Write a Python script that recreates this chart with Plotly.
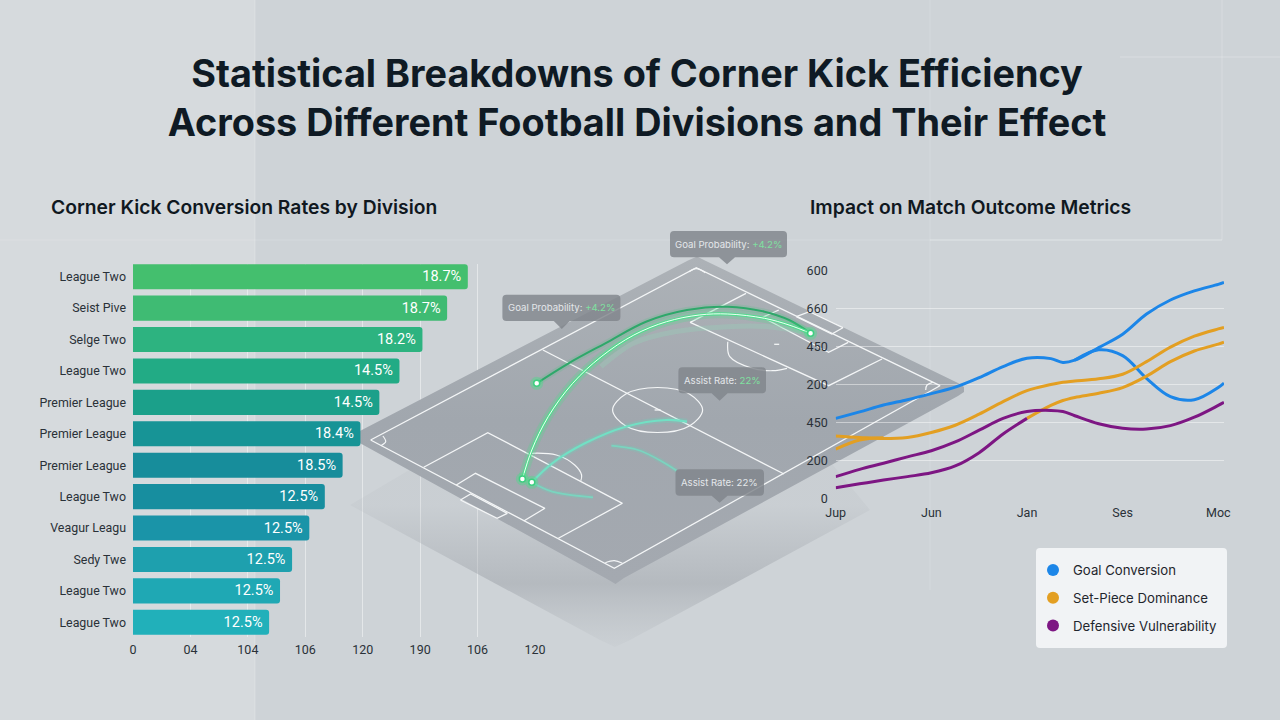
import plotly.graph_objects as go

FONT = "Inter"
LABEL_FONT = "Roboto"
W, H = 1280, 720

# left chart: bar length is read against the x axis tick slots
divisions = ["League Two", "Seist Pive", "Selge Two", "League Two", "Premier League", "Premier League",
             "Premier League", "League Two", "Veagur Leagu", "Sedy Twe", "League Two", "League Two"]
bar_lengths = [5.83, 5.47, 5.04, 4.64, 4.29, 3.96, 3.65, 3.34, 3.07, 2.77, 2.56, 2.37]
bar_labels = ["18.7%", "18.7%", "18.2%", "14.5%", "14.5%", "18.4%", "18.5%", "12.5%", "12.5%", "12.5%", "12.5%", "12.5%"]
bar_colors = ["#44bf6e", "#3fbb73", "#2db380", "#22ab85", "#1ba08a", "#179496",
              "#178d9b", "#178e9f", "#1a94a8", "#1ea0ae", "#1fa8b4", "#21b0ba"]
bar_ticks = ["0", "04", "104", "106", "120", "190", "106", "120"]

# right chart
months = ["Jup", "Jun", "Jan", "Ses", "Moc"]
metric_ticks = ["0", "200", "450", "200", "450", "660", "600"]
t = [0, 0.25, 0.5, 0.75, 1, 1.25, 1.5, 1.75, 2, 2.25, 2.375, 2.5, 2.75, 3, 3.25, 3.5, 3.75, 4, 4.06]
goal_a = [211, 228, 246, 260, 276, 293, 318, 347, 369, 368, 358, 364, 397, 432, 485, 522, 546, 563, 568]
goal_b = [None] * 11 + [364, 391, 376, 316, 268, 260, 292, 304]
setpiece_a = [165, 161, 158, 161, 174, 193, 222, 255, 284, 300, 306, 309, 315, 327, 360, 398, 427, 446, 450]
setpiece_b = [130, 154, 160] + [None] * 5 + [211, 245, 258, 266, 277, 292, 322, 360, 388, 406, 411]
defence_a = [58, 77, 93, 110, 126, 149, 180, 211, 229, 232, 229, 218, 197, 185, 183, 192, 214, 245, 253]
defence_b = [29, 39, 49, 58, 68, 86, 121, 170, 211] + [None] * 10

legend_names = ["Goal Conversion", "Set-Piece Dominance", "Defensive Vulnerability"]
legend_colors = ["#1c86e8", "#e39f22", "#7d1683"]

# pitch illustration, in page pixels on a hidden axis pair
slab = [(688, 260.5), (697, 256.5), (706, 261), (958, 383), (964, 387), (964, 392), (958, 396), (624, 578),
        (615.5, 584), (607, 579), (357, 441.5), (350, 437), (357, 432.5), (688, 260.5)]
slab_shadow = [(350, 505), (600, 640), (615, 647), (630, 640), (870, 510), (697, 300), (350, 505)]
pitch_lines = [
    [(370.6, 440), (696.3, 267.7), (940, 385.7), (614.3, 568.3), (370.6, 440)],
    [(542.9, 350), (784, 474)],
    [(423.7, 467.3), (487.8, 432.7), (622.4, 503.3), (558.4, 538.3)],
    [(456.3, 485), (475.5, 473.3), (544.9, 508.3), (523.7, 521)],
    [(460.4, 500), (470.6, 494), (507.3, 513.3), (497.1, 518.3), (460.4, 500)],
    [(746, 293.3), (690.2, 322.3), (828.6, 385.7), (882, 359)],
    [(778.8, 310), (762.4, 317.3), (828.6, 352.3), (848.2, 342.3)],
    [(796.3, 316.7), (809.4, 311.7), (842.9, 327.7), (831.8, 334), (796.3, 316.7)],
    [(654.6, 410), (660.6, 410)],
    [(774.2, 344.3), (779.2, 344.3)],
]
pitch_curves = [
    [(702.6, 410), (689.4, 425.9), (657.6, 432.5), (625.8, 425.9), (612.6, 410), (625.8, 394.1), (657.6, 387.5), (689.4, 394.1), (702.6, 410)],
    [(531.8, 453.3), (556.3, 455), (574.7, 465), (581.6, 475), (580.8, 480.7)],
    [(727.8, 341.7), (729.8, 356.7), (752.2, 368.3), (772.7, 370.7), (787, 368.3)],
    [(382.9, 436), (385.7, 441.7), (380.8, 445.7)],
    [(689, 271.7), (696.3, 268.7), (705.3, 272.7)],
    [(925.7, 390), (927, 385), (932.7, 382.3)],
    [(605.3, 562.7), (614.3, 560.7), (622.4, 563.3)],
]
arc_dark = [(536.7, 383.3), (568.6, 363.3), (605.3, 343.3), (646, 321.7), (687, 310), (727.8, 306.7), (764.5, 311.7), (789, 320), (810.6, 333.3)]
arc_bright = [(522.4, 479), (531.8, 450), (548.2, 416.7), (572.7, 383.3), (601.2, 356.7), (633.9, 335), (666.5, 321.7),
              (699.2, 315), (727.8, 314), (764.5, 318.3), (789, 325), (810.6, 333.3)]
arc_faint = [(601, 366.7), (634, 343), (674.7, 331.7), (727.8, 326.7), (768.6, 326.7), (801, 331.7)]
arc_teal = [(531.8, 482.3), (552.2, 463.3), (584.9, 443.3), (625.7, 426.7), (666.5, 420), (687, 421.7)]
arc_low = [(531.8, 482.3), (552.2, 491.7), (593, 497.3)]
arc_side = [(611.4, 445.7), (638, 450), (662.4, 461.7), (676.7, 470.7)]
arc_ends = [(536.7, 383.3), (522.4, 479), (531.8, 482.3), (810.6, 333.3)]
callouts = [
    (670, 231, 787, 257.3, 727, 264.3, "Goal Probability:", "+4.2%", "#7fe0a0"),
    (502.4, 294.7, 620.4, 321, 561.8, 329, "Goal Probability:", "+4.2%", "#7fe0a0"),
    (678.4, 367.3, 766, 393.3, 719.6, 400.7, "Assist Rate:", "22%", "#7fe0a0"),
    (675.5, 469.3, 764, 495.7, 719.6, 502.7, "Assist Rate:", "22%", "#e4e7ea"),
]


def fx(px):
    return px / W


def fy(px):
    return 1 - px / H


def xs(points):
    return [p[0] for p in points]


def ys(points):
    return [p[1] for p in points]


fig = go.Figure()


def page_line(points, color, width, shape="linear"):
    fig.add_trace(go.Scatter(x=xs(points), y=ys(points), xaxis="x2", yaxis="y2", mode="lines",
                             line=dict(color=color, width=width, shape=shape, smoothing=1),
                             showlegend=False, hoverinfo="skip"))


# grid only subplot, has to sit under the pitch
fig.add_trace(go.Scatter(x=[None], y=[None], xaxis="x", yaxis="y", showlegend=False, hoverinfo="skip"))

# pitch
fig.add_trace(go.Scatter(x=xs(slab_shadow), y=ys(slab_shadow), xaxis="x2", yaxis="y2", mode="lines",
                         line=dict(width=0), fill="toself",
                         fillgradient=dict(type="vertical", start=505, stop=648,
                                           colorscale=[[0, "rgba(150,155,162,0.08)"], [0.55, "rgba(150,155,162,0.45)"],
                                                       [1, "rgba(170,175,180,0.08)"]]),
                         showlegend=False, hoverinfo="skip"))
fig.add_trace(go.Scatter(x=xs(slab), y=ys(slab), xaxis="x2", yaxis="y2", mode="lines",
                         line=dict(width=0), fill="toself",
                         fillgradient=dict(type="vertical", start=256, stop=584,
                                           colorscale=[[0, "#adb2b7"], [0.5, "#a1a7ae"], [1, "#a4a9b0"]]),
                         showlegend=False, hoverinfo="skip"))
for seg in pitch_lines:
    page_line(seg, "#f4f6f7", 1.3)
for seg in pitch_curves:
    page_line(seg, "#f4f6f7", 1.2, "spline")

page_line(arc_faint, "rgba(150,215,185,0.3)", 5, "spline")
page_line(arc_dark, "rgba(60,200,120,0.18)", 6, "spline")
page_line(arc_dark, "#2ea86a", 2, "spline")
page_line(arc_bright, "rgba(70,225,135,0.25)", 9, "spline")
page_line(arc_bright, "#52dd8e", 3.2, "spline")
page_line(arc_bright, "#f0fff6", 1, "spline")
page_line(arc_teal, "rgba(90,225,190,0.22)", 6, "spline")
page_line(arc_teal, "#72e0c4", 2.2, "spline")
for seg in (arc_low, arc_side):
    page_line(seg, "rgba(90,225,190,0.18)", 5, "spline")
    page_line(seg, "rgba(114,224,196,0.75)", 1.8, "spline")
fig.add_trace(go.Scatter(x=xs(arc_ends), y=ys(arc_ends), xaxis="x2", yaxis="y2", mode="markers",
                         marker=dict(size=13, color="rgba(70,225,135,0.4)"),
                         showlegend=False, hoverinfo="skip"))
fig.add_trace(go.Scatter(x=xs(arc_ends), y=ys(arc_ends), xaxis="x2", yaxis="y2", mode="markers",
                         marker=dict(size=6, color="#ffffff", line=dict(color="#3ecf80", width=1.5)),
                         showlegend=False, hoverinfo="skip"))

# bars
fig.add_trace(go.Bar(x=bar_lengths, y=list(range(len(bar_lengths))), orientation="h", xaxis="x3", yaxis="y3",
                     marker=dict(color=bar_colors, line=dict(width=0)),
                     text=[s + "\u00a0" for s in bar_labels], textposition="inside", insidetextanchor="end",
                     textangle=0, constraintext="none",
                     textfont=dict(family=LABEL_FONT, size=14.5, color="#ffffff", weight=400),
                     showlegend=False, hoverinfo="skip"))

# lines
line_series = [(goal_a, 0), (goal_b, 0), (setpiece_a, 1), (setpiece_b, 1), (defence_a, 2), (defence_b, 2)]
for vals, c in line_series:
    fig.add_trace(go.Scatter(x=t, y=vals, xaxis="x4", yaxis="y4", mode="lines", cliponaxis=False,
                             line=dict(color=legend_colors[c], width=3, shape="spline", smoothing=1),
                             showlegend=False, hoverinfo="skip"))

# legend dots only, the lines stay out of it
for name, color in zip(legend_names, legend_colors):
    fig.add_trace(go.Scatter(x=[None], y=[None], xaxis="x4", yaxis="y4", mode="markers", name=name,
                             legendgroup=name, marker=dict(size=11, color=color), hoverinfo="skip"))

shapes = [
    dict(type="rect", xref="paper", yref="paper", x0=0, x1=fx(255), y0=0, y1=1, layer="below",
         fillcolor="rgba(255,255,255,0.17)", line_width=0),
]
for x0, y0, x1, y1, c in [(255, 0, 255, 720, "rgba(255,255,255,0.15)"), (0, 240, 1222, 240, "rgba(255,255,255,0.1)"),
                          (930, 240, 1222, 240, "rgba(255,255,255,0.2)"), (1222, 0, 1222, 240, "rgba(255,255,255,0.15)"),
                          (1120, 57, 1280, 57, "rgba(255,255,255,0.18)"), (930, 0, 930, 590, "rgba(255,255,255,0.1)")]:
    shapes.append(dict(type="line", xref="paper", yref="paper", x0=fx(x0), x1=fx(x1), y0=fy(y0), y1=fy(y1),
                       layer="below", line=dict(color=c, width=1.5)))

# legend card
lx0, ly0, lx1, ly1, r = 1036, 548, 1227, 648, 4
shapes.append(dict(type="path", xref="x2", yref="y2", layer="above", fillcolor="#f1f3f5", line_width=0,
                   path=f"M{lx0+r},{ly0} L{lx1-r},{ly0} Q{lx1},{ly0} {lx1},{ly0+r} L{lx1},{ly1-r} Q{lx1},{ly1} {lx1-r},{ly1} "
                        f"L{lx0+r},{ly1} Q{lx0},{ly1} {lx0},{ly1-r} L{lx0},{ly0+r} Q{lx0},{ly0} {lx0+r},{ly0} Z"))

annotations = [
    dict(text="Corner Kick Conversion Rates by Division", x=fx(49), y=fy(207), xanchor="left", yanchor="middle"),
    dict(text="Impact on Match Outcome Metrics", x=fx(808), y=fy(207), xanchor="left", yanchor="middle"),
]
for a in annotations:
    a.update(xref="paper", yref="paper", showarrow=False,
             font=dict(family=FONT, size=19.3, color="#10181f", weight=600))

for x0, y0, x1, y1, tx, ty, label, val, val_color in callouts:
    r = 4
    shapes.append(dict(type="path", xref="x2", yref="y2", layer="above", fillcolor="rgba(128,133,139,0.82)", line_width=0,
                       path=f"M{x0+r},{y0} L{x1-r},{y0} Q{x1},{y0} {x1},{y0+r} L{x1},{y1-r} Q{x1},{y1} {x1-r},{y1} "
                            f"L{tx+8},{y1} L{tx},{ty} L{tx-8},{y1} "
                            f"L{x0+r},{y1} Q{x0},{y1} {x0},{y1-r} L{x0},{y0+r} Q{x0},{y0} {x0+r},{y0} Z"))
    annotations.append(dict(text=f"{label} <span style='color:{val_color}'>{val}</span>",
                            x=fx((x0 + x1) / 2), y=fy((y0 + y1) / 2), xref="paper", yref="paper",
                            xanchor="center", yanchor="middle",
                            showarrow=False, font=dict(family=FONT, size=9.6, color="#e4e7ea")))

hidden = dict(visible=False, showgrid=False, zeroline=False)
layout = dict(
    width=W, height=H, margin=dict(l=0, r=0, t=0, b=0, autoexpand=False), autosize=False,
    paper_bgcolor="#ced3d7", plot_bgcolor="rgba(0,0,0,0)",
    font=dict(family=FONT, color="#2a3138"),
    title=dict(text="Statistical Breakdowns of Corner Kick Efficiency<br>Across Different Football Divisions and Their Effect",
               x=fx(637), y=fy(87), xanchor="center", yanchor="middle",
               font=dict(family=FONT, size=37.8, color="#0f1a24", weight=700)),
    bargap=0.2, barcornerradius=3,
    # grid and tick labels of the bar chart
    xaxis=dict(domain=[fx(133), fx(535)], range=[0, 7], anchor="y", tickvals=list(range(8)), ticktext=bar_ticks,
               showgrid=True, gridcolor="rgba(255,255,255,0.45)", gridwidth=1, zeroline=False, showline=False,
               ticks="", tickfont=dict(family=LABEL_FONT, size=12.5, color="#2a3138"), ticklabelstandoff=3),
    yaxis=dict(domain=[fy(637), fy(264)], range=[0, 1], anchor="x", visible=False),
    # page pixels for the pitch
    xaxis2=dict(domain=[0, 1], range=[0, W], anchor="y2", **hidden),
    yaxis2=dict(domain=[0, 1], range=[H, 0], anchor="x2", **hidden),
    # bars
    xaxis3=dict(domain=[fx(133), fx(535)], range=[0, 7], anchor="y3", **hidden),
    yaxis3=dict(domain=[fy(638), fy(261)], range=[11.5, -0.5], anchor="x3", tickvals=list(range(12)), ticktext=divisions,
                showgrid=False, zeroline=False, showline=False, ticks="",
                tickfont=dict(family=LABEL_FONT, size=12.4, color="#2a3138"), ticklabelstandoff=6),
    # lines
    xaxis4=dict(domain=[fx(835.7), fx(1224)], range=[0, 4.06], anchor="y4", tickvals=list(range(5)), ticktext=months,
                showgrid=False, zeroline=False, showline=False, ticks="",
                tickfont=dict(family=LABEL_FONT, size=12.5, color="#2a3138"), ticklabelstandoff=5),
    yaxis4=dict(domain=[fy(498.7), fy(270.3)], range=[0, 600], anchor="x4", tickvals=[0, 100, 200, 300, 400, 500, 600],
                ticktext=metric_ticks, showgrid=True, gridcolor="rgba(255,255,255,0.45)", gridwidth=1, zeroline=False,
                showline=False, ticks="", tickfont=dict(family=LABEL_FONT, size=12.5, color="#2a3138"), ticklabelstandoff=7),
    legend=dict(x=fx(1033), y=fy(555), xanchor="left", yanchor="top", bgcolor="rgba(0,0,0,0)", borderwidth=0,
                tracegroupgap=7.5, itemsizing="constant", itemwidth=30, itemclick=False, itemdoubleclick=False,
                font=dict(family=FONT, size=13.2, color="#1f262d")),
    shapes=shapes, annotations=annotations, showlegend=True,
)
fig.update_layout(**layout)

# the page keeps the default 8px body margin otherwise
fig.write_html("out.html", config=dict(displayModeBar=False),
               post_script="document.body.style.margin='0';document.body.style.background='#ced3d7';")
